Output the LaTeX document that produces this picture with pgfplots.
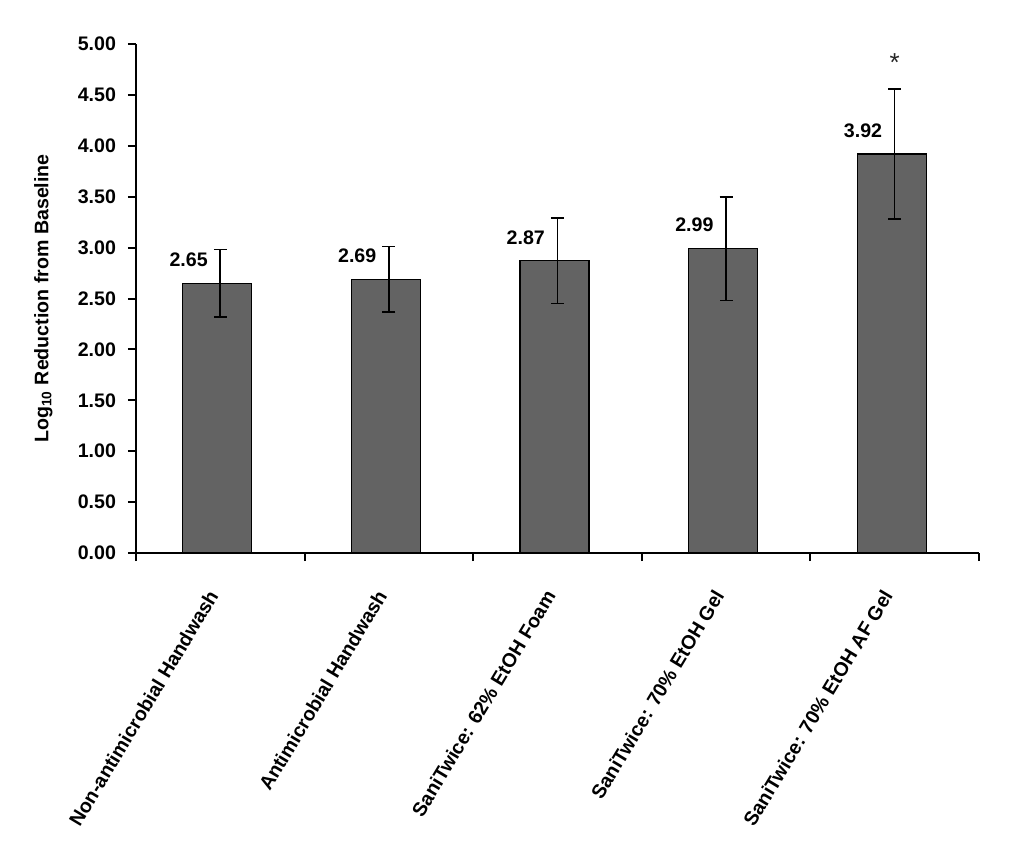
\documentclass[border=0pt]{standalone}
\usepackage{pgfplots}
\pgfplotsset{compat=1.18}
\usepackage{fontspec}
\setmainfont{Liberation Sans}
\definecolor{barfill}{RGB}{99,99,99}
\begin{document}
\begin{tikzpicture}[font=\fontsize{9.8}{11}\selectfont\bfseries]
\begin{axis}[
  at={(0,0)}, anchor=south west,
  width=421.5pt, height=254.5pt, scale only axis,
  xmin=0.5, xmax=5.5, ymin=0, ymax=5,
  axis x line*=bottom, axis y line*=left,
  axis line style={line width=1pt, -},
  /pgf/number format/assume math mode=true,
  ytick={0,0.5,1,1.5,2,2.5,3,3.5,4,4.5,5},
  yticklabel style={xshift=-2.5pt, /pgf/number format/fixed, /pgf/number format/fixed zerofill, /pgf/number format/precision=2},
  tick align=outside,
  major tick length=4pt,
  tick style={line width=1pt, black},
  xtick={0.5,1.5,2.5,3.5,4.5,5.5},
  xticklabels={},
  extra x ticks={1,2,3,4,5},
  extra x tick labels={Non-antimicrobial Handwash, Antimicrobial Handwash, SaniTwice: 62\% EtOH Foam, SaniTwice: 70\% EtOH Gel, SaniTwice: 70\% EtOH AF Gel},
  extra x tick style={major tick length=0pt, xticklabel style={xshift=-3.5pt, yshift=-19.5pt, rotate=59, anchor=east, inner sep=0pt}},
  ylabel={Log\textsubscript{10} Reduction from Baseline},
  ylabel style={at={(axis description cs:-0.110,0.5)}, anchor=center},
  nodes near coords,
  nodes near coords style={anchor=south east, inner sep=0pt, xshift=-6pt, yshift=8pt, /pgf/number format/fixed, /pgf/number format/fixed zerofill, /pgf/number format/precision=2},
  clip=false,
]
\addplot[ybar, bar width=34.5pt, bar shift=-1.5pt, fill=barfill, draw=black, line width=0.6pt,
  error bars/.cd, y dir=both, y explicit,
  error bar style={line width=0.8pt, black},
  error mark options={rotate=90, mark size=3.25pt, line width=0.8pt, black}]
  coordinates {
  (1,2.65) +- (0,0.33)
  (2,2.69) +- (0,0.32)
  (3,2.87) +- (0,0.42)
  (4,2.99) +- (0,0.51)
  (5,3.92) +- (0,0.64)
  };
\node[font=\fontsize{13}{13}\selectfont, text=black!85] at (axis cs:5,4.82) {*};
\end{axis}
\pgfresetboundingbox
\path[use as bounding box] (-68pt,-147.5pt) rectangle (444pt,276.5pt);
\end{tikzpicture}
\end{document}
